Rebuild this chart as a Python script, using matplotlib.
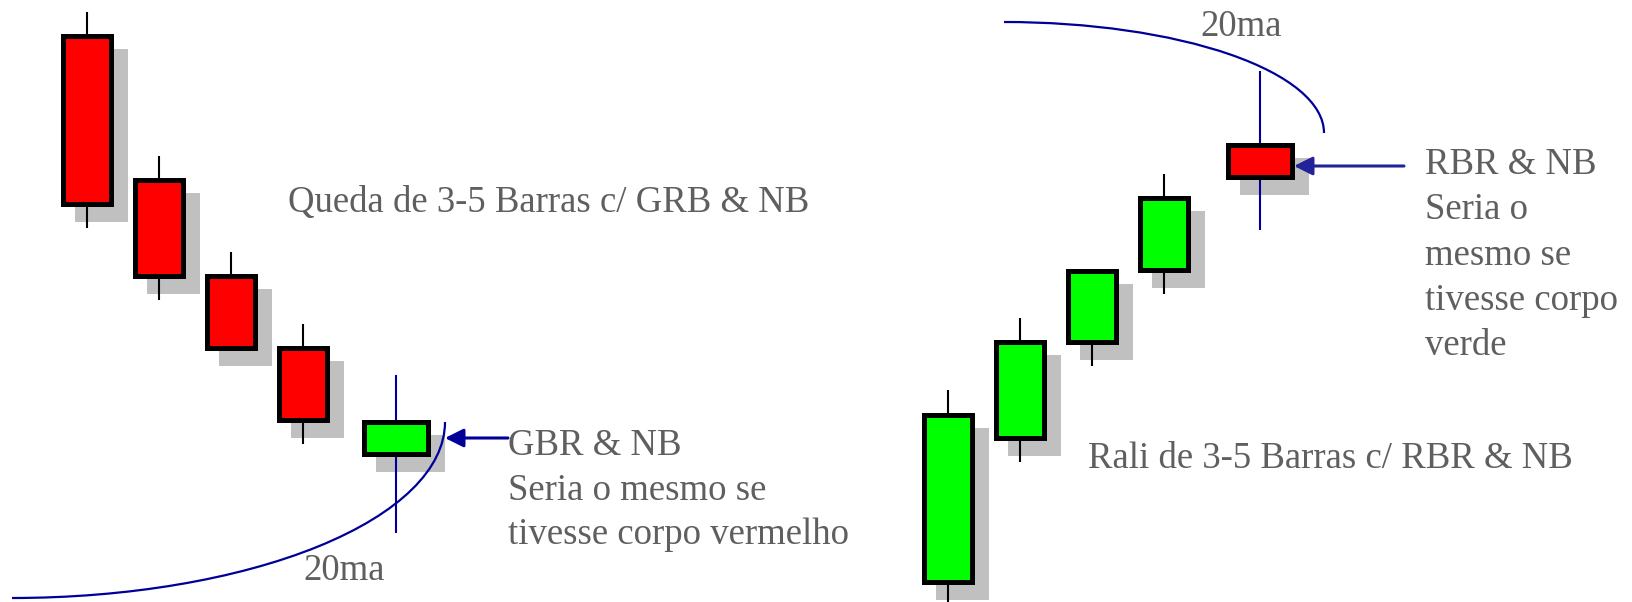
import matplotlib
matplotlib.use("Agg")
import matplotlib.pyplot as plt
from matplotlib.patches import Rectangle, Arc

# price axis: 1 unit == 1 pixel, so rectangles and arcs keep their shape
W, H = 1633, 602

# falling leg (left): four red bars then the green reversal bar
fall_x = [87, 159, 231, 303, 396]
fall_open = [566, 422, 326, 254, 148]
fall_close = [398, 326, 254, 182, 180]
fall_high = [590, 446, 350, 278, 227]
fall_low = [374, 302, 254, 158, 69]
fall_width = [48, 48, 48, 48, 64]

# rally leg (right): four green bars then the red reversal bar
rally_x = [948, 1020, 1092, 1164, 1260]
rally_open = [20, 164, 260, 332, 457]
rally_close = [187, 260, 331, 404, 425]
rally_high = [212, 284, 331, 428, 531]
rally_low = [-20, 140, 236, 308, 372]
rally_width = [48, 48, 48, 48, 64]

# 20-period moving average drawn as a quarter ellipse on each side
ma_left = dict(cx=12, cy=180, a=433, b=176, t1=270, t2=360)
ma_right = dict(cx=1004, cy=469, a=320, b=111, t1=0, t2=90)

TEXT = "#5f5f5f"
NAVY = "#000099"
SHADOW = "#c0c0c0"
BORDER = 5 / 100 * 72   # 5 px border in points
SHIFT = 15              # drop-shadow offset

plt.rcParams["font.family"] = ["Liberation Serif", "DejaVu Serif"]

fig = plt.figure(figsize=(W / 100, H / 100), dpi=100)
ax = fig.add_axes([0, 0, 1, 1])
ax.set_xlim(0, W)
ax.set_ylim(0, H)
ax.axis("off")


def draw_candles(xs, opens, closes, highs, lows, widths, wick_colors):
    for x, o, c, hi, lo, w, wc in zip(xs, opens, closes, highs, lows, widths, wick_colors):
        bottom, top = min(o, c), max(o, c)
        face = "#00ff00" if c > o else "#ff0000"
        half = BORDER / 72 * 100 / 2
        # shadow covers the outer box of the body, shifted right/down
        ax.add_patch(Rectangle((x - w / 2 - half + SHIFT, bottom - half - SHIFT),
                               w + 2 * half, top - bottom + 2 * half,
                               facecolor=SHADOW, edgecolor="none", zorder=1))
        ax.plot([x, x], [lo, hi], color=wc, lw=1.5, zorder=2, solid_capstyle="butt")
        ax.add_patch(Rectangle((x - w / 2, bottom), w, top - bottom,
                               facecolor=face, edgecolor="black", lw=BORDER,
                               joinstyle="miter", zorder=3))


draw_candles(fall_x, fall_open, fall_close, fall_high, fall_low, fall_width,
             ["black"] * 4 + [NAVY])
draw_candles(rally_x, rally_open, rally_close, rally_high, rally_low, rally_width,
             ["black"] * 4 + [NAVY])

for ma in (ma_left, ma_right):
    ax.add_patch(Arc((ma["cx"], ma["cy"]), 2 * ma["a"], 2 * ma["b"],
                     theta1=ma["t1"], theta2=ma["t2"], color=NAVY, lw=1.6, zorder=4))

# arrows pointing at the reversal bars
ax.annotate("", xy=(445, 164), xytext=(508, 164),
            arrowprops=dict(arrowstyle="-|>", color=NAVY, lw=2.2,
                            mutation_scale=28, shrinkA=0, shrinkB=0), zorder=5)
ax.annotate("", xy=(1294, 436), xytext=(1404, 436),
            arrowprops=dict(arrowstyle="-|>", color="#22229a", lw=2.2,
                            mutation_scale=28, shrinkA=0, shrinkB=0), zorder=5)


def label(x, y, lines, step=44.5, size=26.5):
    for i, s in enumerate(lines):
        ax.text(x, y - i * step, s, fontsize=size, color=TEXT,
                ha="left", va="baseline", zorder=6)


label(288, 602 - 212, ["Queda de 3-5 Barras c/ GRB & NB"])
label(1088, 602 - 468, ["Rali de 3-5 Barras c/ RBR & NB"])
label(303, 602 - 580, ["20ma"])
label(1200, 602 - 36, ["20ma"])
label(508, 602 - 455, ["GBR & NB", "Seria o mesmo se", "tivesse corpo vermelho"])
label(1425, 602 - 174, ["RBR & NB", "Seria o", "mesmo se", "tivesse corpo", "verde"],
      step=45.3)

fig.savefig("out.png", dpi=100, facecolor="white")
